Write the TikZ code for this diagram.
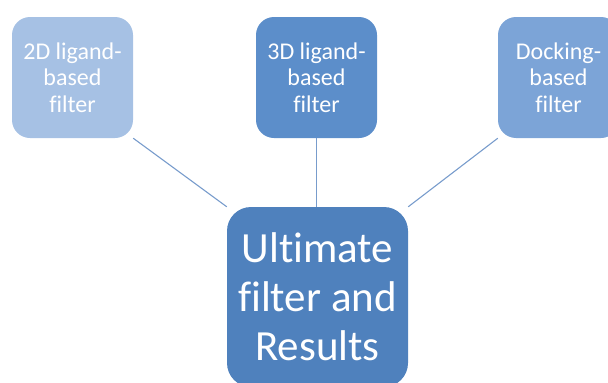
\documentclass[tikz,border=0pt]{standalone}
\usepackage{fontspec}
\setmainfont[Ligatures=NoCommon]{Carlito}
\definecolor{paleblue}{RGB}{166,193,228}
\definecolor{midblue}{RGB}{92,142,202}
\definecolor{softblue}{RGB}{124,164,215}
\definecolor{deepblue}{RGB}{79,129,189}
\definecolor{linkblue}{RGB}{120,156,204}
\begin{document}
\begin{tikzpicture}[x=1pt, y=-1pt,
    filterbox/.style={rounded corners=18pt, minimum width=121pt, minimum height=121pt,
        inner sep=0pt, text=white, align=center, font=\fontsize{24}{26.5}\selectfont},
    resultbox/.style={rounded corners=24pt, minimum width=181pt, minimum height=180pt,
        inner sep=0pt, text=white, align=center, font=\fontsize{43}{49}\selectfont},
    link/.style={draw=linkblue, line width=1.1pt}]
    \useasboundingbox (0,0) rectangle (608,383);
    % the three filters
    \node[filterbox, fill=paleblue] (lig2d) at (72.5,77.5) {2D ligand-\\based\\filter};
    \node[filterbox, fill=midblue] (lig3d) at (316.5,77.5) {3D ligand-\\based\\filter};
    \node[filterbox, fill=softblue] (dock) at (558.5,77.5) {Docking-\\based\\filter};
    % final step
    \node[resultbox, fill=deepblue] (final) at (317.5,297) {Ultimate\\filter and\\Results};
    \draw[link] (lig2d.south east) -- (final.north west);
    \draw[link] (lig3d.south) -- (lig3d.south |- final.north);
    \draw[link] (dock.south west) -- (final.north east);
\end{tikzpicture}
\end{document}
